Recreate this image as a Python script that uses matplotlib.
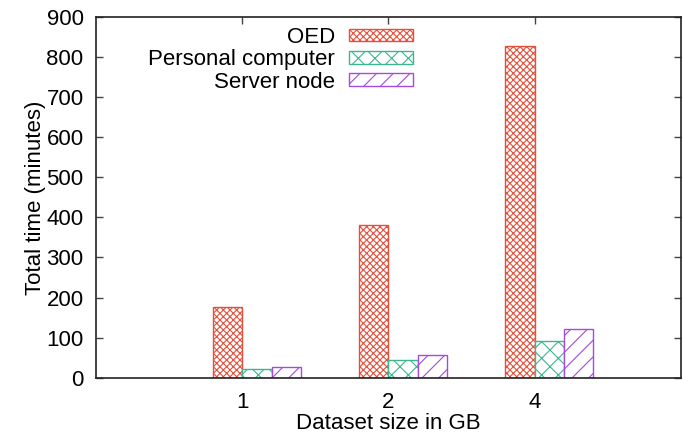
"""Clustered bar chart: total time per dataset size, gnuplot style."""

import numpy as np
import matplotlib
matplotlib.use("Agg")
import matplotlib.pyplot as plt

plt.rcParams["font.family"] = ["Liberation Sans", "DejaVu Sans"]
plt.rcParams["hatch.linewidth"] = 0.8

# ── Data ──────────────────────────────────────────────────────────────────────
sizes = ["1", "2", "4"]
series = ["OED", "Personal computer", "Server node"]
oed = [177, 380, 827]
personal = [22, 43, 92]
server = [27, 57, 121]

colors = ["#e5503c", "#3cb68e", "#a44ae0"]
hatches = ["xxxxx", "xx", "//"]

FS = 16

# ── Plot ──────────────────────────────────────────────────────────────────────
fig = plt.figure(figsize=(6.83, 4.34), dpi=100)
ax = fig.add_axes([0.1406, 0.1297, 0.997 - 0.1406, 0.961 - 0.1297])

x = np.arange(len(sizes))
width = 0.2
for i, (vals, name) in enumerate(zip([oed, personal, server], series)):
    ax.bar(x + (i - 1) * width, vals, width=width, align="edge",
           facecolor="white", edgecolor=colors[i], hatch=hatches[i],
           linewidth=1.0, label=name, zorder=2)

ax.set_xlim(-1, 3)
ax.set_ylim(0, 900)
ax.set_xticks(x)
ax.set_xticklabels(sizes)
ax.set_yticks(np.arange(0, 901, 100))
ax.tick_params(axis="both", direction="in", length=5, width=1,
               labelsize=FS, color="#444444")
ax.tick_params(axis="y", right=True, pad=9)
ax.tick_params(axis="x", top=True, pad=10)
for s in ax.spines.values():
    s.set_linewidth(1.2)
    s.set_color("#222222")

ax.set_xlabel("Dataset size in GB", fontsize=FS, labelpad=0)
ax.set_ylabel("Total time (minutes)", fontsize=FS, labelpad=0)

leg = ax.legend(loc="upper right", bbox_to_anchor=(413 / 683, 1 - 27 / 434),
                bbox_transform=fig.transFigure, frameon=False,
                markerfirst=False, fontsize=FS, handlelength=2.9,
                handleheight=0.5, handletextpad=0.6, labelspacing=0.06,
                borderpad=0, borderaxespad=0)
for t in leg.get_texts():
    t.set_ha("right")

fig.savefig("out.png", dpi=100)
plt.close(fig)
